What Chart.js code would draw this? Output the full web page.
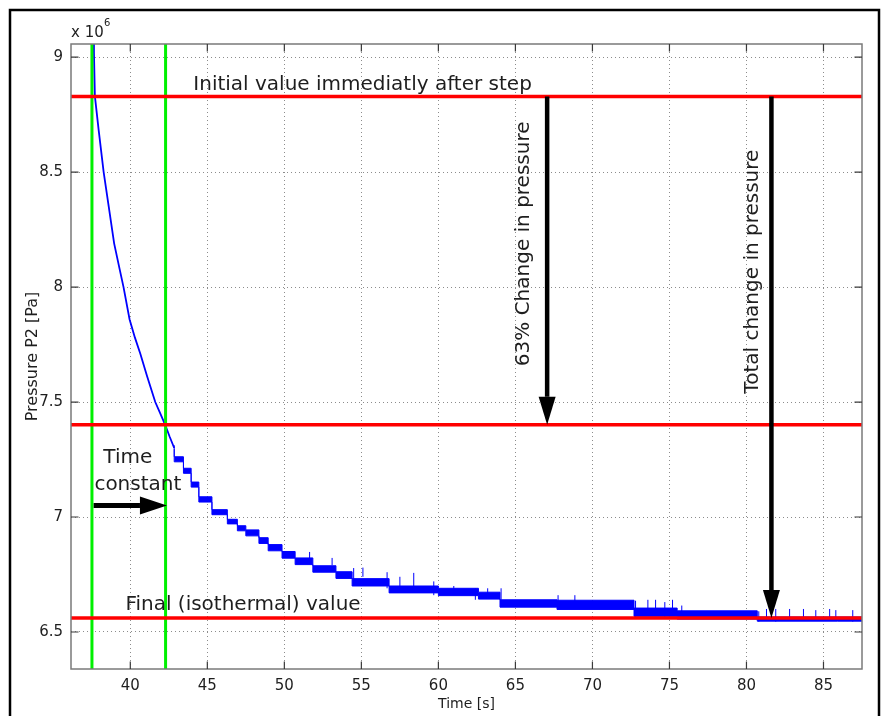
<!DOCTYPE html>
<html><head><meta charset="utf-8">
<script src="https://cdn.jsdelivr.net/npm/chart.js@4.4.1/dist/chart.umd.min.js"></script>
<style>html,body{margin:0;padding:0;background:#fff;} canvas{display:block;}</style>
</head><body>
<canvas id="c" width="883" height="716"></canvas>
<script>
// ---------- data (pressure in units of 10^6 Pa, time in s) ----------
const xRange = [36.15, 87.5];
const yRange = [6.339, 9.057];
const xTicks = [40, 45, 50, 55, 60, 65, 70, 75, 80, 85];
const yTicks = [6.5, 7, 7.5, 8, 8.5, 9];

// reference levels
const initialValue = 8.829;
const tauValue = 7.401;
const finalValue = 6.561;
const stepTime = 37.51;
const tauTime = 42.29;

// early (fast) part of the measured trace
const earlyT = [37.58, 37.64, 37.70, 37.95, 38.27, 38.60, 38.95, 39.30, 39.56, 39.95, 40.30, 40.65, 41.10, 41.62, 41.95, 42.27, 42.55, 42.85];
const earlyP = [9.40, 9.02, 8.83, 8.68, 8.50, 8.35, 8.19, 8.08, 8.00, 7.86, 7.78, 7.71, 7.61, 7.50, 7.45, 7.40, 7.35, 7.30];

// quantized / noisy part: block start time, lower and upper edge of the band
const blockT  = [42.85, 43.45, 43.95, 44.45, 45.30, 46.30, 46.95, 47.50, 48.35, 48.95, 49.85, 50.70, 51.85, 53.35, 54.40, 56.80, 60.00, 62.60, 64.00, 67.70, 72.70, 75.50, 80.70, 85.90];
const blockLo = [7.295, 7.240, 7.190, 7.130, 7.065, 7.010, 6.970, 6.940, 6.918, 6.885, 6.853, 6.821, 6.793, 6.760, 6.733, 6.700, 6.670, 6.658, 6.643, 6.608, 6.598, 6.568, 6.556, 6.547];
const blockHi = [7.312, 7.262, 7.212, 7.152, 7.088, 7.032, 6.990, 6.962, 6.944, 6.910, 6.880, 6.850, 6.822, 6.788, 6.762, 6.732, 6.700, 6.690, 6.673, 6.640, 6.638, 6.604, 6.592, 6.565];

// individual noise spikes
const spikeT  = [51.64, 53.10, 54.50, 55.10, 56.67, 57.50, 58.40, 59.70, 61.00, 62.40, 63.20, 64.07, 67.77, 68.86, 72.80, 73.60, 74.10, 74.70, 75.20, 75.80, 78.20, 80.80, 81.30, 81.90, 82.80, 83.70, 84.50, 85.40, 85.80, 86.90];
const spikeLo = [6.796, 6.790, 6.726, 6.740, 6.690, 6.700, 6.690, 6.660, 6.665, 6.640, 6.650, 6.640, 6.600, 6.610, 6.563, 6.575, 6.580, 6.563, 6.575, 6.570, 6.562, 6.545, 6.550, 6.545, 6.548, 6.550, 6.550, 6.548, 6.550, 6.545];
const spikeHi = [6.848, 6.822, 6.778, 6.780, 6.760, 6.740, 6.757, 6.720, 6.700, 6.690, 6.690, 6.690, 6.660, 6.660, 6.636, 6.640, 6.640, 6.630, 6.640, 6.615, 6.590, 6.590, 6.600, 6.600, 6.600, 6.600, 6.595, 6.600, 6.595, 6.595];

// arrows (times / pressure levels)
const verticalArrowT = [67.06, 81.62];
const verticalArrowTo = [tauValue, finalValue];
const tcArrowT = [37.62, 42.38];
const tcArrowP = 7.05;

// ---------- build datasets ----------
const BLUE = '#0000ff', RED = '#ff0000', GREEN = '#00f000';
const early = earlyT.map((t, i) => ({x: t, y: earlyP[i]}));
const endT = xRange[1] + 0.2;
const upper = blockT.map((t, i) => ({x: t, y: blockHi[i]}));
upper.push({x: endT, y: blockHi[blockHi.length - 1]});
const lower = blockT.map((t, i) => ({x: t, y: blockLo[i]}));
lower.push({x: endT, y: blockLo[blockLo.length - 1]});
const spikes = [];
spikeT.forEach((t, i) => { spikes.push({x: t, y: spikeLo[i]}, {x: t, y: spikeHi[i]}, {x: t, y: null}); });

const hLine = (v) => [{x: xRange[0], y: v}, {x: xRange[1], y: v}];
const vLine = (t) => [{x: t, y: yRange[0]}, {x: t, y: yRange[1]}];

const base = {type: 'line', pointRadius: 0, fill: false, tension: 0, clip: 0};
const datasets = [
  {...base, label: 'initial', data: hLine(initialValue), borderColor: RED, borderWidth: 3.5, order: 0},
  {...base, label: '63%', data: hLine(tauValue), borderColor: RED, borderWidth: 3.5, order: 0},
  {...base, label: 'final', data: hLine(finalValue), borderColor: RED, borderWidth: 3.5, order: 0},
  {...base, label: 'step', data: vLine(stepTime), borderColor: GREEN, borderWidth: 3, order: 1},
  {...base, label: 'tau', data: vLine(tauTime), borderColor: GREEN, borderWidth: 3, order: 1},
  {...base, label: 'P2 early', data: early, borderColor: BLUE, borderWidth: 1.8, order: 2},
  {...base, label: 'P2 upper', data: upper, stepped: 'after', borderColor: BLUE, backgroundColor: BLUE, borderWidth: 1, fill: '+1', order: 2},
  {...base, label: 'P2 lower', data: lower, stepped: 'after', borderColor: BLUE, borderWidth: 1, order: 2},
  {...base, label: 'P2 spikes', data: spikes, borderColor: BLUE, borderWidth: 1, spanGaps: false, order: 2}
];

// ---------- decorations ----------
function arrow(ctx, x1, y1, x2, y2, lw, headLen, headW) {
  const ang = Math.atan2(y2 - y1, x2 - x1);
  const bx = x2 - headLen * Math.cos(ang), by = y2 - headLen * Math.sin(ang);
  ctx.strokeStyle = '#000'; ctx.fillStyle = '#000'; ctx.lineWidth = lw;
  ctx.beginPath(); ctx.moveTo(x1, y1); ctx.lineTo(bx, by); ctx.stroke();
  ctx.beginPath();
  ctx.moveTo(x2, y2);
  ctx.lineTo(bx + headW / 2 * Math.sin(ang), by - headW / 2 * Math.cos(ang));
  ctx.lineTo(bx - headW / 2 * Math.sin(ang), by + headW / 2 * Math.cos(ang));
  ctx.closePath(); ctx.fill();
}

const decor = {
  id: 'decor',
  afterDraw(chart) {
    const {ctx, chartArea: a} = chart;
    const xs = chart.scales.x, ys = chart.scales.y;
    const px = (t) => xs.getPixelForValue(t), py = (v) => ys.getPixelForValue(v);
    ctx.save();
    // axes box
    ctx.strokeStyle = '#7a7a7a'; ctx.lineWidth = 1.5;
    ctx.strokeRect(a.left, a.top, a.right - a.left, a.bottom - a.top);
    // inward ticks
    ctx.strokeStyle = '#3a3a3a'; ctx.lineWidth = 1.2;
    const tl = 7.5;
    ctx.beginPath();
    xTicks.forEach(t => { const X = px(t); ctx.moveTo(X, a.bottom); ctx.lineTo(X, a.bottom - tl); ctx.moveTo(X, a.top); ctx.lineTo(X, a.top + tl); });
    yTicks.forEach(v => { const Y = py(v); ctx.moveTo(a.left, Y); ctx.lineTo(a.left + tl, Y); ctx.moveTo(a.right, Y); ctx.lineTo(a.right - tl, Y); });
    ctx.stroke();
    // exponent label
    ctx.fillStyle = '#1e1e1e';
    ctx.textBaseline = 'alphabetic'; ctx.textAlign = 'left';
    ctx.font = '15px "DejaVu Sans"';
    ctx.fillText('x 10', a.left, 37);
    ctx.font = '10px "DejaVu Sans"';
    ctx.fillText('6', a.left + 33, 26);
    // arrows
    verticalArrowT.forEach((t, i) => arrow(ctx, px(t), py(initialValue), px(t), py(verticalArrowTo[i]), 4.5, 28, 17));
    arrow(ctx, px(tcArrowT[0]), py(tcArrowP), px(tcArrowT[1]), py(tcArrowP), 5, 27, 18);
    // annotation text
    ctx.fillStyle = '#1e1e1e';
    ctx.font = '20px "DejaVu Sans"';
    ctx.textAlign = 'left'; ctx.textBaseline = 'alphabetic';
    ctx.fillText('Initial value immediatly after step', px(44.09), py(8.855));
    ctx.fillText('Final (isothermal) value', px(39.68), py(6.594));
    ctx.textAlign = 'center';
    ctx.fillText('Time', px(39.84), py(7.236));
    ctx.fillText('constant', px(40.49), py(7.119));
    const vtext = (s, t, v) => {
      ctx.save(); ctx.translate(px(t), py(v)); ctx.rotate(-Math.PI / 2);
      ctx.textAlign = 'center'; ctx.textBaseline = 'middle'; ctx.fillText(s, 0, 0); ctx.restore();
    };
    vtext('63% Change in pressure', 65.52, 8.188);
    vtext('Total change in pressure', 80.39, 8.067);
    // outer figure frame
    ctx.strokeStyle = '#000'; ctx.lineWidth = 2.5;
    ctx.strokeRect(10, 10, 869, 720);
    ctx.restore();
  }
};

Chart.defaults.font.family = '"DejaVu Sans"';
Chart.defaults.color = '#1e1e1e';

new Chart(document.getElementById('c'), {
  type: 'line',
  data: {datasets},
  options: {
    responsive: false,
    animation: false,
    parsing: true,
    layout: {padding: {top: 44, right: 21, bottom: 0, left: 0}},
    plugins: {legend: {display: false}, tooltip: {enabled: false}},
    scales: {
      x: {
        type: 'linear', min: xRange[0], max: xRange[1],
        afterBuildTicks: (s) => { s.ticks = xTicks.map(v => ({value: v})); },
        afterFit: (s) => { s.height = 47; },
        grid: {color: '#8c8c8c', lineWidth: 1, drawTicks: false},
        border: {display: false, dash: [1, 3]},
        ticks: {font: {size: 15}, padding: 8, callback: (v) => String(v), maxRotation: 0},
        title: {display: true, text: 'Time [s]', font: {size: 14}, padding: {top: 0, bottom: 3}}
      },
      y: {
        type: 'linear', min: yRange[0], max: yRange[1],
        afterBuildTicks: (s) => { s.ticks = yTicks.map(v => ({value: v})); },
        afterFit: (s) => { s.width = 71; },
        grid: {color: '#8c8c8c', lineWidth: 1, drawTicks: false},
        border: {display: false, dash: [1, 3]},
        ticks: {font: {size: 15}, padding: 8, callback: (v) => String(v)},
        title: {display: true, text: 'Pressure P2 [Pa]', font: {size: 16}, padding: {top: 23, bottom: 0}}
      }
    }
  },
  plugins: [decor]
});
</script>
</body></html>
